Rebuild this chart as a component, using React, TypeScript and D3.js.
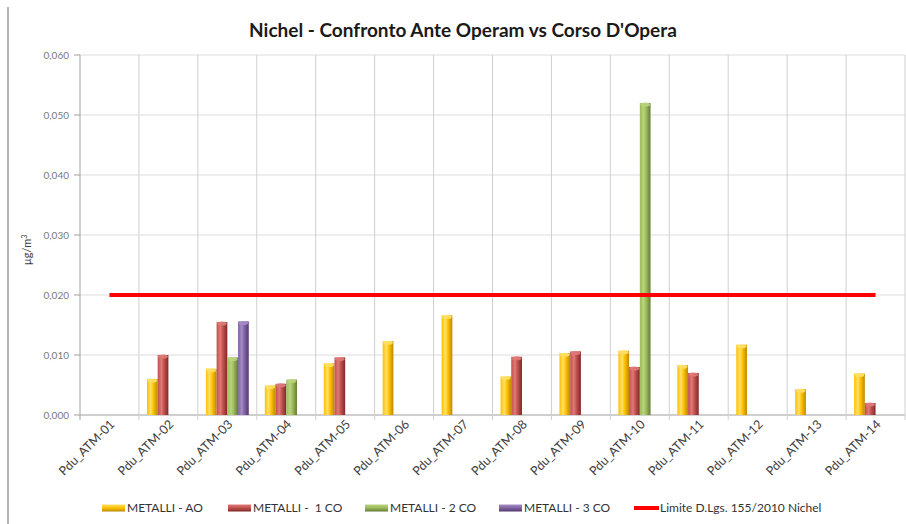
import React from "react";
import * as d3 from "d3";

const categories = [
  "Pdu_ATM-01", "Pdu_ATM-02", "Pdu_ATM-03", "Pdu_ATM-04", "Pdu_ATM-05", "Pdu_ATM-06", "Pdu_ATM-07",
  "Pdu_ATM-08", "Pdu_ATM-09", "Pdu_ATM-10", "Pdu_ATM-11", "Pdu_ATM-12", "Pdu_ATM-13", "Pdu_ATM-14",
];
const seriesAO = [null, 0.006, 0.0077, 0.0049, 0.0086, 0.0123, 0.0166, 0.0064, 0.0103, 0.0107, 0.0083, 0.0117, 0.0043, 0.0069];
const series1CO = [null, 0.010, 0.0155, 0.0052, 0.0096, null, null, 0.0097, 0.0106, 0.008, 0.007, null, null, 0.002];
const series2CO = [null, null, 0.0096, 0.0059, null, null, null, null, null, 0.052, null, null, null, null];
const series3CO = [null, null, 0.0156, null, null, null, null, null, null, null, null, null, null, null];
const limitValues = [0.02, 0.02, 0.02, 0.02, 0.02, 0.02, 0.02, 0.02, 0.02, 0.02, 0.02, 0.02, 0.02, 0.02];
const seriesNames = ["METALLI - AO", "METALLI -  1 CO", "METALLI - 2 CO", "METALLI - 3 CO"];
const limitName = "Limite D.Lgs. 155/2010 Nichel";
const yTicks = [0, 0.01, 0.02, 0.03, 0.04, 0.05, 0.06];
const title = "Nichel - Confronto Ante Operam vs Corso D'Opera";

const palettes = [
  { light: "#FFE066", base: "#FFC000", dark: "#B88A00" },
  { light: "#DE7A77", base: "#C0504D", dark: "#7F2826" },
  { light: "#B8D47E", base: "#9BBB59", dark: "#637A32" },
  { light: "#A68BC6", base: "#8064A2", dark: "#52386F" },
];

const W = 906;
const H = 524;
const left = 80;
const right = 905;
const top = 55;
const bottom = 415;
const font = "Lato, 'Open Sans', sans-serif";

export default function App() {
  const allSeries = [seriesAO, series1CO, series2CO, series3CO];
  const x0 = d3.scaleBand<string>().domain(categories).range([left, right]).padding(0);
  const bw = x0.bandwidth();
  const groupW = (bw * 4) / 5.5;
  const x1 = d3.scaleBand<number>().domain([0, 1, 2, 3]).range([0, groupW]).padding(0);
  const y = d3.scaleLinear().domain([0, 0.06]).range([bottom, top]);
  const fmt = (v: number) => d3.format(".3f")(v).replace(".", ",");
  const line = d3
    .line<number>()
    .x((_, i) => (x0(categories[i]) as number) + bw / 2)
    .y((d) => y(d));

  const legendX = [102, 228, 365, 499, 634];

  return (
    <svg
      width={W}
      height={H}
      style={{ position: "absolute", left: 0, top: 0, background: "#fff" }}
      fontFamily={font}
    >
      <defs>
        {palettes.map((p, i) => (
          <linearGradient key={i} id={`g${i}`} x1="0" x2="1" y1="0" y2="0">
            <stop offset="0%" stopColor={p.base} />
            <stop offset="35%" stopColor={p.light} />
            <stop offset="60%" stopColor={p.base} />
            <stop offset="100%" stopColor={p.dark} />
          </linearGradient>
        ))}
        {palettes.map((p, i) => (
          <linearGradient key={i} id={`lg${i}`} x1="0" x2="0" y1="0" y2="1">
            <stop offset="0%" stopColor={p.light} />
            <stop offset="50%" stopColor={p.base} />
            <stop offset="100%" stopColor={p.dark} />
          </linearGradient>
        ))}
      </defs>

      {/* outer left border */}
      <line x1={8} x2={8} y1={7} y2={H} stroke="#b4b4b4" strokeWidth={2} />

      {/* title */}
      <text x={463} y={37} textAnchor="middle" fontSize={19} fontWeight="bold" fill="#1a1a1a">
        {title}
      </text>

      {/* horizontal gridlines */}
      {yTicks.map((t) => (
        <g key={t}>
          <line x1={left} x2={right} y1={y(t)} y2={y(t)} stroke={t === 0 ? "#a0a0a0" : "#dcdcdc"} strokeWidth={1} />
          <line x1={left - 6} x2={left} y1={y(t)} y2={y(t)} stroke="#a0a0a0" />
          <text x={69} y={y(t)} dy="0.35em" textAnchor="end" fontSize={10} fill="#7a7a7a">
            {fmt(t)}
          </text>
        </g>
      ))}

      {/* vertical gridlines */}
      {categories.map((c, i) => (
        <g key={c}>
          <line
            x1={(x0(c) as number) + bw}
            x2={(x0(c) as number) + bw}
            y1={top}
            y2={bottom + 5}
            stroke="#d0d0d0"
          />
          {i === 0 && <line x1={left} x2={left} y1={top} y2={bottom + 5} stroke="#a0a0a0" />}
        </g>
      ))}

      {/* bars */}
      {allSeries.map((s, si) =>
        s.map((v, ci) => {
          if (v == null) return null;
          const bx = (x0(categories[ci]) as number) + (bw - groupW) / 2 + (x1(si) as number);
          const bwid = x1.bandwidth();
          const by = y(v);
          return (
            <g key={`${si}-${ci}`}>
              <rect x={bx} y={by} width={bwid} height={bottom - by} fill={`url(#g${si})`} />
              <ellipse cx={bx + bwid / 2} cy={by + 1.5} rx={bwid / 2 - 0.5} ry={2} fill={palettes[si].light} opacity={0.9} />
            </g>
          );
        })
      )}

      {/* limit line */}
      <path d={line(limitValues) as string} fill="none" stroke="#FF0000" strokeWidth={4} />

      {/* x labels */}
      {categories.map((c) => {
        const cx = (x0(c) as number) + bw / 2 + 6;
        const cy = 425;
        return (
          <text
            key={c}
            x={cx}
            y={cy}
            transform={`rotate(-45 ${cx} ${cy})`}
            textAnchor="end"
            fontSize={12.5}
            fill="#404040"
          >
            {c}
          </text>
        );
      })}

      {/* y title */}
      <text x={31} y={250} transform="rotate(-90 31 250)" textAnchor="middle" fontSize={11} fill="#404040">
        µg/m<tspan baselineShift="super" fontSize={7}>3</tspan>
      </text>

      {/* legend */}
      {seriesNames.map((n, i) => (
        <g key={n} transform={`translate(${legendX[i]},508)`}>
          <rect x={0} y={-3.5} width={23} height={7} fill={`url(#lg${i})`} />
          <text x={25} y={0} dy="0.35em" fontSize={12} fill="#333" style={{ whiteSpace: "pre" }}>
            {n}
          </text>
        </g>
      ))}
      <g transform={`translate(${legendX[4]},508)`}>
        <line x1={0} x2={25} y1={0} y2={0} stroke="#FF0000" strokeWidth={4} />
        <text x={26} y={0} dy="0.35em" fontSize={12} fill="#333">
          {limitName}
        </text>
      </g>
    </svg>
  );
}
